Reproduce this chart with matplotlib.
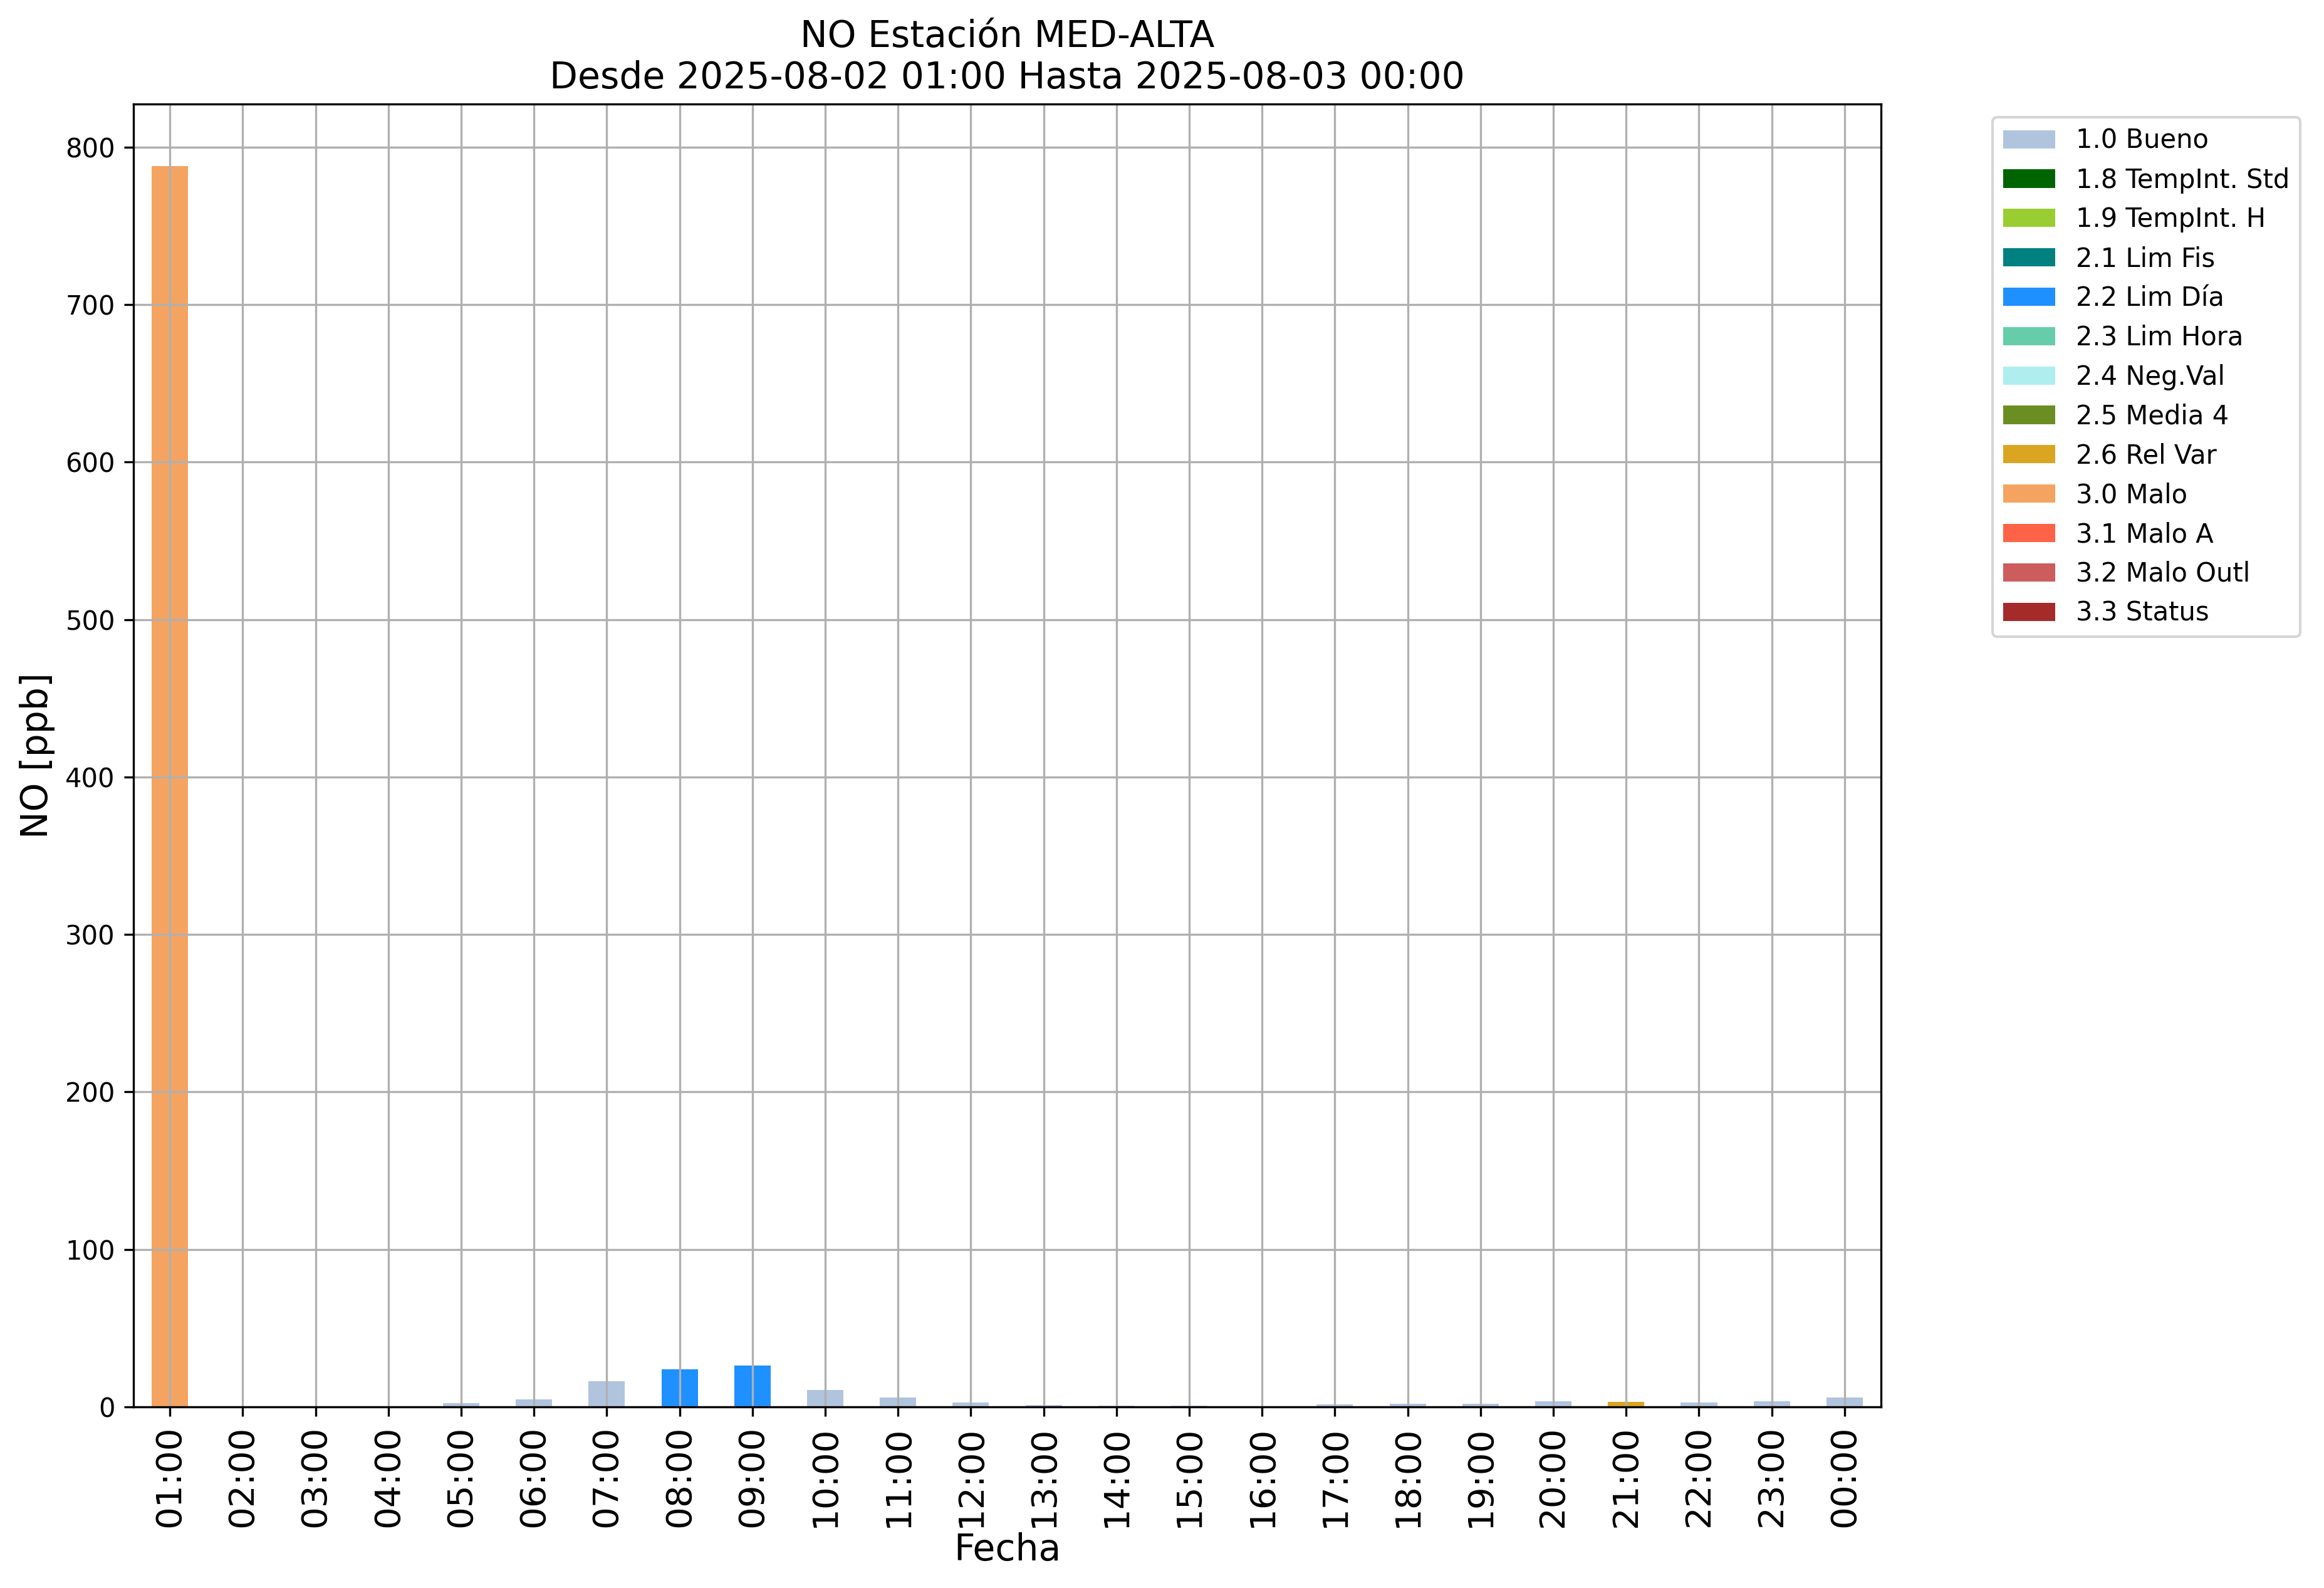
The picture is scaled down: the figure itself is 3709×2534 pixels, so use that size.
import matplotlib
matplotlib.use("Agg")
import matplotlib.pyplot as plt
import numpy as np

# Horas de la serie (2025-08-02 01:00 -> 2025-08-03 00:00)
horas = ["01:00", "02:00", "03:00", "04:00", "05:00", "06:00", "07:00", "08:00",
         "09:00", "10:00", "11:00", "12:00", "13:00", "14:00", "15:00", "16:00",
         "17:00", "18:00", "19:00", "20:00", "21:00", "22:00", "23:00", "00:00"]

# Concentración de NO [ppb] por hora
no_ppb = [788.0, 0.5, 0.5, 0.5, 2.5, 4.9, 16.4, 24.0,
          26.4, 10.9, 6.1, 2.9, 1.3, 0.9, 0.9, 0.0,
          1.7, 2.1, 2.1, 3.7, 3.3, 2.9, 3.7, 6.1]

# Flag de validación asignado a cada hora
flags = ["3.0 Malo", "1.0 Bueno", "1.0 Bueno", "1.0 Bueno", "1.0 Bueno", "1.0 Bueno",
         "1.0 Bueno", "2.2 Lim Día", "2.2 Lim Día", "1.0 Bueno", "1.0 Bueno", "1.0 Bueno",
         "1.0 Bueno", "1.0 Bueno", "1.0 Bueno", "1.0 Bueno", "1.0 Bueno", "1.0 Bueno",
         "1.0 Bueno", "1.0 Bueno", "2.6 Rel Var", "1.0 Bueno", "1.0 Bueno", "1.0 Bueno"]

# Categorías de flag y su color
categorias = ["1.0 Bueno", "1.8 TempInt. Std", "1.9 TempInt. H", "2.1 Lim Fis",
              "2.2 Lim Día", "2.3 Lim Hora", "2.4 Neg.Val", "2.5 Media 4",
              "2.6 Rel Var", "3.0 Malo", "3.1 Malo A", "3.2 Malo Outl", "3.3 Status"]
colores = ["lightsteelblue", "darkgreen", "yellowgreen", "teal",
           "dodgerblue", "mediumaquamarine", "paleturquoise", "olivedrab",
           "goldenrod", "sandybrown", "tomato", "indianred", "brown"]

fig = plt.figure(figsize=(3709 / 300, 2534 / 300), dpi=300)
ax = fig.add_axes([213 / 3709, 1 - 2245 / 2534, (3002 - 213) / 3709, (2245 - 166) / 2534])

x = np.arange(len(horas))
valores = np.array(no_ppb)
flags_arr = np.array(flags)
base = np.zeros(len(horas))

# barras apiladas, una serie por categoría de flag
for cat, col in zip(categorias, colores):
    serie = np.where(flags_arr == cat, valores, 0.0)
    ax.bar(x, serie, width=0.5, bottom=base, color=col, label=cat)
    base = base + serie

ax.set_xlim(-0.5, len(horas) - 0.5)
ax.set_ylim(0, valores.max() * 1.05)
ax.set_xticks(x)
ax.set_xticklabels(horas, rotation=90, fontsize=13.5)
ax.tick_params(axis="y", labelsize=10)
ax.grid(True)

ax.set_title("NO Estación MED-ALTA\nDesde 2025-08-02 01:00 Hasta 2025-08-03 00:00", fontsize=14)
ax.set_xlabel("Fecha", fontsize=14, labelpad=2)
ax.set_ylabel("NO [ppb]", fontsize=14)

ax.legend(loc="upper left", bbox_to_anchor=(3180 / 3709, 1 - 187 / 2534),
          bbox_transform=fig.transFigure, borderaxespad=0, fontsize=10)

fig.savefig("out.png", dpi=300)
